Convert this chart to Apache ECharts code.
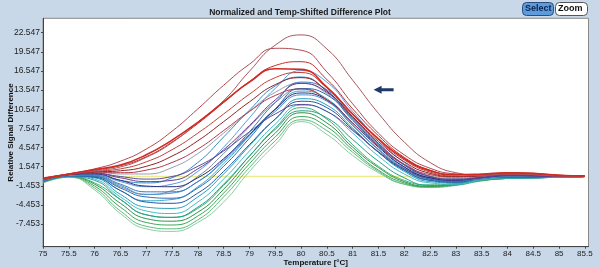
<!DOCTYPE html>
<html>
<head>
<meta charset="utf-8">
<script src="https://cdn.jsdelivr.net/npm/echarts@6/dist/echarts.min.js"></script>
<style>
  html, body { margin: 0; padding: 0; background: #c8d8e8; }
  #chart { width: 600px; height: 268px; }
</style>
</head>
<body>
<div id="chart"></div>
<script>
  // temperatures (°C) the curves were read at
  var temps = [75, 75.5, 76, 76.5, 77, 77.5, 78, 78.5, 79, 79.5, 80, 80.5, 81, 81.5, 82, 82.5, 83, 83.5, 84, 84.5, 85, 85.5];

  // tick labels
  var xTicks = [75, 75.5, 76, 76.5, 77, 77.5, 78, 78.5, 79, 79.5, 80, 80.5, 81, 81.5, 82, 82.5, 83, 83.5, 84, 84.5, 85, 85.5];
  var yTicks = [-7.453, -4.453, -1.453, 1.547, 4.547, 7.547, 10.547, 13.547, 16.547, 19.547, 22.547];

  // reference (yellow) line and the arrow marker, in data units
  var refLine = [[76, 0], [83, 0]];
  var arrowAt = [81.6, 13.6];

  // difference curves, one per sample
  var a1 = [-0.3, 0.4, 0.9, 1.5, 3.0, 5.3, 8.5, 11.9, 16.5, 20.6, 22.2, 20.0, 15.1, 9.9, 5.4, 2.2, 0.6, 0.2, 0.4, 0.3, 0.1, 0.1];
  var a2 = [-0.4, 0.4, 1.2, 2.4, 4.3, 7.1, 10.6, 14.3, 17.6, 20.1, 19.8, 16.4, 11.4, 6.8, 3.4, 1.3, 0.4, 0.2, 0.4, 0.3, 0.1, 0.0];
  var b1 = [-0.2, 0.4, 1.0, 1.7, 3.1, 5.4, 8.3, 11.6, 14.9, 17.4, 18.0, 15.2, 10.6, 6.4, 3.0, 1.0, 0.3, 0.3, 0.6, 0.5, 0.2, 0.1];
  var b2 = [-0.3, 0.4, 1.1, 1.8, 3.4, 5.7, 8.5, 11.7, 14.8, 16.9, 16.8, 14.0, 9.8, 5.9, 2.8, 0.9, 0.3, 0.4, 0.6, 0.5, 0.2, 0.1];
  var b3 = [-0.5, 0.3, 0.8, 1.2, 2.3, 4.2, 6.8, 9.8, 12.9, 15.5, 16.3, 13.9, 9.8, 5.8, 2.6, 0.7, 0.1, 0.2, 0.5, 0.4, 0.2, 0.0];
  var b4 = [-0.4, 0.3, 0.7, 0.9, 1.6, 3.2, 5.6, 8.6, 11.7, 14.4, 15.5, 13.4, 9.4, 5.5, 2.3, 0.5, 0.0, 0.1, 0.4, 0.4, 0.1, 0.0];
  var b5 = [-0.3, 0.3, 0.6, 0.6, 1.0, 2.2, 4.3, 7.2, 10.2, 12.7, 13.7, 12.0, 8.4, 4.8, 1.9, 0.3, -0.1, 0.1, 0.3, 0.3, 0.1, 0.0];
  var c1 = [-0.6, 0.3, 0.5, -0.2, -0.8, -0.6, 1.2, 4.2, 8.0, 12.0, 14.6, 13.2, 9.2, 5.2, 1.9, 0.0, -0.5, -0.2, 0.2, 0.1, 0.0, 0.0];
  var c2 = [-0.5, 0.3, 0.4, -0.6, -1.5, -1.6, -0.2, 2.8, 6.6, 10.5, 13.1, 12.0, 8.4, 4.6, 1.5, -0.2, -0.6, -0.2, 0.1, 0.1, 0.0, 0.0];
  var c3 = [-0.4, 0.3, 0.5, 0.0, -0.4, 0.0, 1.6, 4.0, 7.0, 9.8, 11.3, 10.2, 7.2, 3.9, 1.2, -0.2, -0.4, -0.1, 0.2, 0.1, 0.0, 0.0];
  var d1 = [-0.7, 0.2, 0.3, -0.8, -1.6, -1.2, 0.8, 4.6, 9.2, 13.8, 16.6, 14.8, 10.2, 5.8, 2.2, 0.0, -0.6, -0.3, 0.0, 0.0, -0.1, 0.0];
  var d2 = [-0.6, 0.2, 0.2, -1.2, -2.4, -2.4, -0.8, 2.6, 7.0, 11.6, 14.8, 13.6, 9.4, 5.2, 1.8, -0.2, -0.6, -0.2, 0.0, 0.0, -0.1, 0.0];
  var d3 = [-0.7, 0.1, 0.0, -1.8, -3.2, -3.4, -1.8, 1.6, 6.0, 10.6, 13.8, 12.8, 8.8, 4.8, 1.5, -0.4, -0.8, -0.3, 0.0, -0.1, -0.1, 0.0];
  var d4 = [-0.5, 0.2, 0.1, -1.4, -2.8, -2.6, -0.8, 2.4, 6.4, 10.2, 12.8, 11.8, 8.0, 4.3, 1.3, -0.4, -0.7, -0.2, 0.0, 0.0, -0.1, 0.0];
  var d5 = [-0.8, 0.1, -0.1, -2.2, -4.0, -4.2, -2.6, 0.8, 5.0, 9.0, 11.8, 10.8, 7.4, 3.8, 1.0, -0.6, -0.9, -0.3, -0.1, -0.1, -0.1, 0.0];
  var d6 = [-0.6, 0.2, 0.3, -0.6, -1.0, -0.2, 2.2, 6.2, 10.4, 14.2, 15.6, 13.4, 9.0, 5.0, 1.8, 0.0, -0.5, -0.2, 0.0, 0.0, -0.1, 0.0];
  var e1 = [-0.8, 0.1, -0.2, -2.8, -4.8, -5.0, -3.2, 0.4, 4.8, 9.0, 12.2, 11.2, 7.6, 3.8, 0.8, -0.8, -1.0, -0.4, -0.2, -0.2, -0.1, 0.0];
  var e2 = [-0.7, 0.1, -0.4, -3.2, -5.4, -5.8, -4.0, -0.4, 4.0, 8.2, 11.2, 10.2, 6.8, 3.2, 0.4, -1.0, -1.2, -0.5, -0.2, -0.2, -0.1, 0.0];
  var e3 = [-0.9, 0.0, -0.6, -3.6, -6.0, -6.4, -4.8, -1.2, 3.2, 7.4, 10.3, 9.2, 5.8, 2.4, -0.2, -1.4, -1.3, -0.5, -0.2, -0.2, -0.1, 0.0];
  var e4 = [-0.6, 0.2, -0.1, -2.2, -3.8, -3.6, -1.6, 2.0, 6.4, 10.6, 13.4, 12.2, 8.2, 4.2, 1.0, -0.6, -0.8, -0.3, -0.1, -0.1, -0.1, 0.0];
  var f1 = [-0.8, 0.0, -1.2, -4.2, -6.6, -7.0, -5.6, -2.0, 2.6, 6.8, 10.0, 8.4, 4.6, 1.4, -0.8, -1.5, -1.2, -0.6, -0.3, -0.2, -0.1, 0.0];
  var f2 = [-0.9, 0.0, -1.5, -4.8, -7.2, -7.6, -6.2, -2.6, 2.0, 6.2, 9.4, 7.8, 4.2, 1.0, -1.0, -1.6, -1.3, -0.6, -0.3, -0.2, -0.1, 0.0];
  var f3 = [-1.0, -0.1, -1.8, -5.4, -7.8, -8.2, -6.8, -3.2, 1.4, 5.6, 8.9, 7.2, 3.8, 0.8, -1.2, -1.7, -1.4, -0.7, -0.3, -0.2, -0.1, 0.0];
  var f4 = [-1.0, -0.1, -2.1, -5.8, -8.2, -8.6, -7.2, -4.0, 0.8, 5.0, 8.6, 6.6, 3.3, 0.6, -1.2, -1.6, -0.9, -0.5, -0.3, -0.2, -0.1, 0.0];
  var f5 = [-0.8, 0.0, -1.0, -3.6, -6.0, -6.4, -5.0, -1.4, 3.2, 7.6, 10.8, 9.0, 5.0, 1.6, -0.6, -1.3, -1.1, -0.6, -0.3, -0.2, -0.1, 0.0];
  var g1 = [-0.6, 0.3, 0.8, 0.4, 0.4, 1.4, 3.6, 6.8, 10.2, 13.2, 14.6, 13.0, 9.0, 5.0, 1.8, 0.1, -0.3, 0.0, 0.2, 0.1, 0.0, 0.0];
  var g2 = [-0.7, 0.2, 0.1, -1.6, -2.8, -2.2, 0.0, 3.6, 7.8, 11.6, 13.8, 12.0, 8.0, 4.2, 1.2, -0.5, -0.7, -0.3, 0.0, 0.0, -0.1, 0.0];

  // drawing order: greens at the back, reds on top
  var curves = [
    {v: f4, color: '#8ccc9e'}, {v: f3, color: '#5cbc7c'}, {v: f2, color: '#3aa85a'},
    {v: f1, color: '#2e9446'}, {v: f5, color: '#40b070'},
    {v: e3, color: '#22a08e'}, {v: e2, color: '#44bccc'}, {v: e1, color: '#2aa0bc'}, {v: e4, color: '#40a8cc'},
    {v: g2, color: '#7c8c9c'}, {v: g1, color: '#94a0ac'},
    {v: d5, color: '#1e5aa2'}, {v: d4, color: '#4a92d2'}, {v: d3, color: '#2e6ab2'},
    {v: d2, color: '#3a7ac2'}, {v: d6, color: '#3a8aca'}, {v: d1, color: '#5c9cda'},
    {v: c3, color: '#5a4a9a'}, {v: c2, color: '#2e2e7a'}, {v: c1, color: '#6a3e8e'},
    {v: b5, color: '#b03a4a'}, {v: b4, color: '#8e2228'}, {v: b3, color: '#c0403c'},
    {v: b1, color: '#c0302c'}, {v: a2, color: '#b04a52'}, {v: a1, color: '#a8585e'},
    {v: b2, color: '#d02a22', w: 1.6}
  ];

  function pairs(vals) {
    return temps.map(function (t, i) { return [t, vals[i]]; });
  }

  var series = [{
    type: 'line',
    data: refLine,
    showSymbol: false,
    silent: true,
    lineStyle: {color: '#ecec8c', width: 1.5},
    markPoint: {
      symbol: 'path://M0,5 L8,0 L8,3 L20,3 L20,7 L8,7 L8,10 Z',
      symbolSize: [20, 8],
      itemStyle: {color: '#1f3a6a'},
      label: {show: false},
      data: [{coord: arrowAt}]
    }
  }];
  curves.forEach(function (c) {
    series.push({
      type: 'line',
      data: pairs(c.v),
      smooth: 0.5,
      showSymbol: false,
      silent: true,
      lineStyle: {color: c.color, width: c.w || 1}
    });
  });

  var chart = echarts.init(document.getElementById('chart'));
  chart.setOption({
    animation: false,
    backgroundColor: '#c8d8e8',
    textStyle: {fontFamily: 'Liberation Sans'},
    title: {
      text: 'Normalized and Temp-Shifted Difference Plot',
      left: 'center',
      top: 3,
      textStyle: {fontSize: 8.5, fontWeight: 'bold', color: '#1a1a1a', fontFamily: 'Liberation Sans'}
    },
    grid: {
      left: 43, right: 11.5, top: 18.3, bottom: 21.3,
      outerBoundsMode: 'none',
      containLabel: false,
      show: true, backgroundColor: '#ffffff', borderColor: '#8a8a8a', borderWidth: 1
    },
    xAxis: {
      type: 'value',
      min: 75, max: 85.57,
      name: 'Temperature [°C]',
      nameLocation: 'middle',
      nameGap: 12,
      nameMoveOverlap: false,
      nameTextStyle: {fontSize: 8, fontWeight: 'bold', color: '#111'},
      axisLine: {show: true, onZero: false, lineStyle: {color: '#444'}},
      axisTick: {show: true, length: 2, customValues: xTicks, lineStyle: {color: '#444'}},
      axisLabel: {customValues: xTicks, fontSize: 8, color: '#222', margin: 3},
      splitLine: {show: false}
    },
    yAxis: {
      type: 'value',
      min: -11.0, max: 24.8,
      name: 'Relative Signal Difference',
      nameLocation: 'middle',
      nameGap: 28,
      nameMoveOverlap: false,
      nameTextStyle: {fontSize: 8, fontWeight: 'bold', color: '#111'},
      axisLine: {show: true, onZero: false, lineStyle: {color: '#444'}},
      axisTick: {show: true, length: 2, customValues: yTicks, lineStyle: {color: '#444'}},
      axisLabel: {
        customValues: yTicks, fontSize: 8.5, color: '#222', margin: 3,
        formatter: function (v) { return v.toFixed(3); }
      },
      splitLine: {show: false}
    },
    graphic: [
      {type: 'rect', left: 522, top: 2, shape: {width: 31, height: 13, r: 4},
        style: {fill: '#5b9cdc', stroke: '#2c4c7c', lineWidth: 1}},
      {type: 'text', left: 525, top: 4,
        style: {text: 'Select', fill: '#10204a', font: 'bold 9px Liberation Sans'}},
      {type: 'rect', left: 555, top: 2, shape: {width: 32, height: 13, r: 4},
        style: {fill: '#ffffff', stroke: '#555', lineWidth: 1}},
      {type: 'text', left: 558, top: 4,
        style: {text: 'Zoom', fill: '#111', font: 'bold 9px Liberation Sans'}}
    ],
    series: series
  });
</script>
</body>
</html>
